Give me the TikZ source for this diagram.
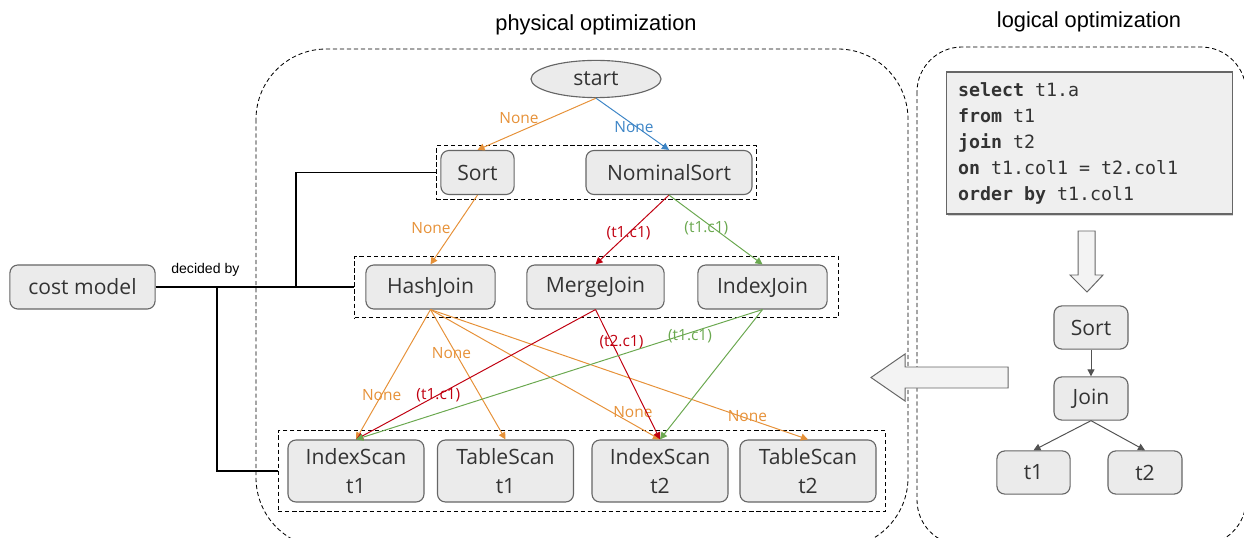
\documentclass[tikz,border=0pt]{standalone}
\usepackage{fontspec}
\setmainfont{Open Sans}
\newfontfamily\arialfont{Liberation Sans}
\newfontfamily\codefont{DejaVu Sans Mono}
\usetikzlibrary{arrows.meta,fit,shadows,shapes.geometric}

\definecolor{boxfill}{HTML}{EBEBEB}
\definecolor{boxline}{HTML}{666666}
\definecolor{txt}{HTML}{333333}
\definecolor{cnone}{HTML}{E69138}
\definecolor{cblue}{HTML}{3D85C6}
\definecolor{cred}{HTML}{C00010}
\definecolor{cgreen}{HTML}{6AA84F}

\newcommand{\sqlsp}{\hspace*{0.602em}}

\tikzset{op/.style={draw=boxline, fill=boxfill, rounded corners=2mm, text=txt, line width=0.8pt,
  font=\fontsize{15}{20.5}\selectfont, minimum height=1.1cm, align=center, inner sep=0pt}}
\tikzset{scan/.style={op, minimum width=3.4cm, minimum height=1.55cm}}
\tikzset{grp/.style={draw, dashed, dash pattern=on 3pt off 2pt, line width=0.7pt}}
\tikzset{frame/.style={draw, dash pattern=on 3pt off 2pt, line width=0.6pt}}
\tikzset{lbl/.style={font=\fontsize{11}{13}\selectfont, inner sep=0pt}}
\tikzset{flow/.style={-{Triangle[length=5pt,width=5pt]}, line width=0.7pt}}
\tikzset{hollow/.style={draw=boxline, fill=boxfill!60!white, line width=0.7pt}}

\begin{document}
\begin{tikzpicture}[x=0.025cm, y=-0.025cm]
\useasboundingbox (0,0) rectangle (1244,538);

% outer frames and titles
\begin{scope}
  \clip (0,0) rectangle (1244,538);
  \draw[frame, rounded corners=50pt] (256,49) rectangle (908,548);
  \draw[frame, rounded corners=32pt] (917,47) rectangle (1246,545);
\end{scope}
\node[font=\arialfont\fontsize{15.5}{18}\selectfont] (ptitle) at (596,25) {physical optimization};
\node[font=\arialfont\fontsize{15.5}{18}\selectfont] (ltitle) at (1089,22) {logical optimization};

% physical plan
\node[op, ellipse, minimum width=3.25cm, minimum height=0.93cm, rounded corners=0pt] (start) at (596,79) {start};
\node[op, minimum width=1.83cm] (sort) at (477.5,172.5) {Sort};
\node[op, minimum width=4.15cm] (nsort) at (669,172.5) {NominalSort};
\node[op, minimum width=3.23cm] (hj) at (430.5,287) {HashJoin};
\node[op, minimum width=3.43cm] (mj) at (595.5,287) {MergeJoin};
\node[op, minimum width=3.23cm] (ij) at (762.5,287) {IndexJoin};
\node[scan] (is1) at (356,471) {IndexScan\\t1};
\node[scan] (ts1) at (505.5,471) {TableScan\\t1};
\node[scan] (is2) at (660,471) {IndexScan\\t2};
\node[scan] (ts2) at (808,471) {TableScan\\t2};
\node[grp, fit=(sort)(nsort), inner xsep=0.1cm, inner ysep=0.1cm] (grp1) {};
\node[grp, fit=(hj)(mj)(ij), inner xsep=0.26cm, inner ysep=0.21cm] (grp2) {};
\node[grp, fit=(is1)(ts2), inner xsep=0.23cm, inner ysep=0.22cm] (grp3) {};

\draw[flow, cnone] (start.south) -- node[lbl, pos=.65, yshift=10pt]{None} (sort.north);
\draw[flow, cblue] (start.south) -- node[lbl, pos=.56, xshift=-2pt]{None} (nsort.north);
\draw[flow, cnone] (sort.south) -- node[lbl, pos=.48, xshift=-17pt]{None} (hj.north);
\draw[flow, cred] (nsort.south) -- node[lbl, pos=.55]{(t1.c1)} (mj.north);
\draw[flow, cgreen] (nsort.south) -- node[lbl, pos=.475, xshift=-5pt]{(t1.c1)} (ij.north);

\draw[flow, cnone] (hj.south) -- node[lbl, pos=.656]{None} (is1.north);
\draw[flow, cnone] (hj.south) -- node[lbl, pos=.336, xshift=-3pt]{None} (ts1.north);
\draw[flow, cnone] (hj.south) -- node[lbl, pos=.79, xshift=15pt]{None} (is2.north);
\draw[flow, cnone] (hj.south) -- node[lbl, pos=.817, xshift=6pt]{None} (ts2.north);
\draw[flow, cred] (mj.south) -- node[lbl, pos=.656]{(t1.c1)} (is1.north);
\draw[flow, cred] (mj.south) -- node[lbl, pos=.25, xshift=7pt]{(t2.c1)} (is2.north);
\draw[flow, cgreen] (ij.south) -- node[lbl, pos=.206, xshift=8pt]{(t1.c1)} (is1.north);
\draw[flow, cgreen] (ij.south) -- (is2.north);

% cost model
\node[op, minimum width=3.63cm] (cost) at (82.5,287) {cost model};
\coordinate (j1) at (296,287);
\coordinate (j2) at (217,287);
\draw[line width=1pt] (cost.east) -- node[above=4pt, pos=.25, font=\arialfont\fontsize{10}{12}\selectfont]{decided by} (grp2.west);
\draw[line width=1pt] (grp1.west) -| (j1);
\draw[line width=1pt] (grp3.west) -| (j2);

% logical plan
\node[op, minimum width=7.13cm, minimum height=3.55cm, rounded corners=0pt, fill=boxfill!80!white,
  text width=6.57cm, align=left, font=\codefont\fontsize{13}{18.5}\selectfont,
  drop shadow={opacity=0.35, shadow xshift=0.6pt, shadow yshift=-1.6pt}] (sql) at (1089.5,143)
  {\textbf{select}\sqlsp t1.a\\\textbf{from}\sqlsp t1\\\textbf{join}\sqlsp t2\\
   \textbf{on}\sqlsp t1.col1\sqlsp=\sqlsp t2.col1\\\textbf{order}\sqlsp\textbf{by}\sqlsp t1.col1};
\node[op, minimum width=1.85cm, minimum height=1.08cm] (lsort) at (1091,327.5) {Sort};
\node[op, minimum width=1.85cm, minimum height=1.08cm] (ljoin) at (1091,398.5) {Join};
\node[op, minimum width=1.83cm, minimum height=1.08cm] (lt1) at (1033.5,472.5) {t1};
\node[op, minimum width=1.85cm, minimum height=1.08cm] (lt2) at (1145,472.5) {t2};
\draw[flow, boxline!80!black] (lsort.south) -- (ljoin.north);
\draw[flow, boxline!80!black] (ljoin.south) -- (lt1.north);
\draw[flow, boxline!80!black] (ljoin.south) -- (lt2.north);

% big hollow arrows
\draw[hollow] (1078,231) -- (1095,231) -- (1095,275) -- (1103,275) -- (1087,292)
  -- (1070,275) -- (1078,275) -- cycle;
\draw[hollow] (1008,367) -- (1008,388) -- (905,388) -- (905,401) -- (871,377.5)
  -- (905,354) -- (905,367) -- cycle;
\end{tikzpicture}
\end{document}
